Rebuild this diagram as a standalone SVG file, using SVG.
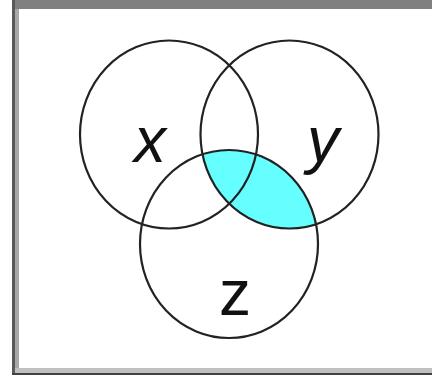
<svg xmlns="http://www.w3.org/2000/svg" width="432" height="375" viewBox="0 0 432 375">
  <style>
    .set { fill: none; stroke: #222; stroke-width: 2.2; }
    .lbl { font-family: "Liberation Sans", Arial, sans-serif; font-size: 64px; fill: #111; text-anchor: middle; }
    .it { font-style: italic; }
  </style>
  <defs>
    <clipPath id="clipZ">
      <ellipse cx="229" cy="244" rx="89" ry="94"/>
    </clipPath>
  </defs>
  <rect x="0" y="0" width="432" height="375" fill="#fff"/>
  <!-- frame -->
  <g id="frame">
    <rect x="12" y="0" width="420" height="9" fill="#808080"/>
    <rect x="12" y="0" width="3" height="375" fill="#5a5a5a"/>
    <rect x="15" y="9" width="4" height="362" fill="#a8a8a8"/>
    <rect x="15" y="368" width="417" height="5" fill="#c0c0c0"/>
    <rect x="12" y="373" width="420" height="2" fill="#404040"/>
  </g>
  <!-- shaded region: y ∩ z -->
  <g id="shade">
    <ellipse cx="289.5" cy="134.5" rx="89" ry="94" fill="#66ffff" clip-path="url(#clipZ)"/>
  </g>
  <g id="set-x">
    <ellipse class="set" cx="169" cy="134.5" rx="89" ry="94"/>
    <text class="lbl it" x="150" y="162">x</text>
  </g>
  <g id="set-y">
    <ellipse class="set" cx="289.5" cy="134.5" rx="89" ry="94"/>
    <text class="lbl it" x="323" y="162">y</text>
  </g>
  <g id="set-z">
    <ellipse class="set" cx="229" cy="244" rx="89" ry="94"/>
    <text class="lbl" x="235" y="315">z</text>
  </g>
</svg>
